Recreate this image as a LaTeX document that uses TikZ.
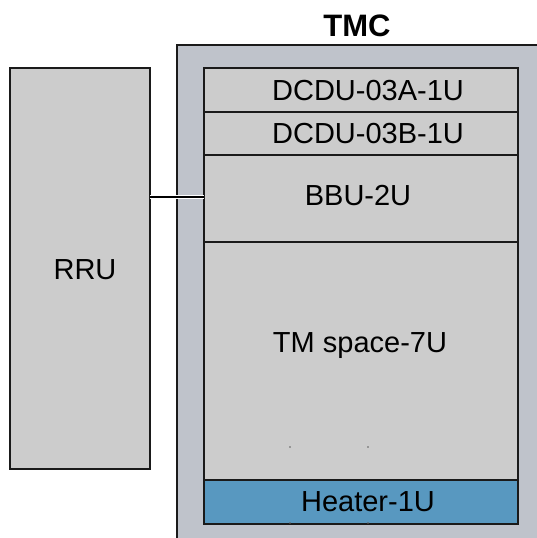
\documentclass[tikz,border=0pt]{standalone}
\usepackage{fontspec}
\setmainfont{Liberation Sans}
\definecolor{unitgray}{HTML}{CCCCCC}
\definecolor{cabinet}{HTML}{BFC3CB}
\definecolor{heaterblue}{HTML}{5898C0}
\definecolor{edge}{HTML}{1A1A1A}
\begin{document}
\begin{tikzpicture}[x=1pt,y=-1pt,
  unitbox/.style={draw=edge,line width=1.4pt,fill=unitgray},
  label/.style={font=\fontsize{29}{31}\selectfont,inner sep=0pt,anchor=center}]
\useasboundingbox (0,0) rectangle (537,538);
% cabinet
\fill[cabinet,draw=edge,line width=1.4pt] (177,45) rectangle (545,545);
\node[font=\fontsize{31}{33}\selectfont\bfseries,inner sep=0pt] (tmc) at (357,26) {TMC};
% RRU
\draw[unitbox] (10,68) rectangle (150,469);
\node[label] (rru) at (85,270) {RRU};
% stacked units
\draw[unitbox] (204,68) rectangle (518,112);
\node[label] (dcdua) at (368,91) {DCDU-03A-1U};
\draw[unitbox] (204,112) rectangle (518,155);
\node[label] (dcdub) at (368,134) {DCDU-03B-1U};
\draw[unitbox] (204,155) rectangle (518,242);
\node[label] (bbu) at (358,196) {BBU-2U};
\draw[unitbox] (204,242) rectangle (518,480);
\node[label] (tm) at (360,346) {TM space-7U};
\draw[unitbox,fill=heaterblue] (204,480) rectangle (518,524);
\node[label] (heater) at (368,502) {Heater-1U};
% small marks
\fill[edge!70] (290,447) circle (0.8) (368,447) circle (0.8)
  (290,523) circle (0.8) (368,523) circle (0.8);
% link between RRU and BBU
\coordinate (rruport) at (150,197);
\coordinate (bbuport) at (204,197);
\draw[white,line width=4pt] (rruport) -- (bbuport);
\draw[black,line width=2pt] (rruport) -- (bbuport);
\end{tikzpicture}
\end{document}
